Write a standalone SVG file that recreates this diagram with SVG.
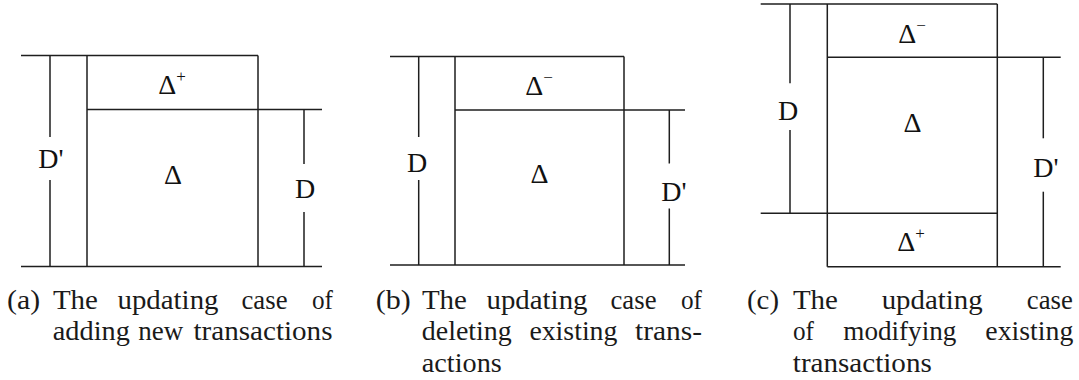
<svg xmlns="http://www.w3.org/2000/svg" width="1079" height="380" viewBox="0 0 1079 380">
<style>
.ln{stroke:#1e1e1e;stroke-width:1.5;fill:none}
.lb{font-family:Liberation Serif,DejaVu Serif,serif;font-size:28px;fill:#111;text-anchor:middle}
.sup{font-size:17px}
.cap{font-family:Liberation Serif,DejaVu Serif,serif;font-size:27px;fill:#1a1a1a;text-anchor:middle}
</style>
<rect width="1079" height="380" fill="#fff"/>

<!-- Panel (a) -->
<g id="panel-a">
  <g id="a-lines" class="ln">
    <line x1="21" y1="55.5" x2="258" y2="55.5"/>
    <line x1="87" y1="109.5" x2="322" y2="109.5"/>
    <line x1="21" y1="266.5" x2="322" y2="266.5"/>
    <line x1="87" y1="55.5" x2="87" y2="266.5"/>
    <line x1="258" y1="55.5" x2="258" y2="266.5"/>
    <line x1="50" y1="55.5" x2="50" y2="137"/>
    <line x1="50" y1="180" x2="50" y2="266.5"/>
    <line x1="304" y1="109.5" x2="304" y2="164"/>
    <line x1="304" y1="212" x2="304" y2="266.5"/>
  </g>
  <g id="a-delta-plus"><text class="lb" x="172" y="94">Δ<tspan class="sup" dy="-12">+</tspan></text></g>
  <g id="a-delta"><text class="lb" x="173" y="184">Δ</text></g>
  <g id="a-Dprime"><text class="lb" x="51" y="168">D'</text></g>
  <g id="a-D"><text class="lb" x="305" y="198">D</text></g>
  <g id="a-caption" class="cap">
    <text class="cap" x="23.6" y="308.5" textLength="33" lengthAdjust="spacingAndGlyphs">(a)</text>
    <text class="cap" x="75.4" y="308.5" textLength="45" lengthAdjust="spacingAndGlyphs">The</text>
    <text class="cap" x="168" y="308.5" textLength="101" lengthAdjust="spacingAndGlyphs">updating</text>
    <text class="cap" x="264.5" y="308.5" textLength="46" lengthAdjust="spacingAndGlyphs">case</text>
    <text class="cap" x="322.5" y="308.5" textLength="21" lengthAdjust="spacingAndGlyphs">of</text>
    <text class="cap" x="91.3" y="340" textLength="77" lengthAdjust="spacingAndGlyphs">adding</text>
    <text class="cap" x="160.7" y="340" textLength="45" lengthAdjust="spacingAndGlyphs">new</text>
    <text class="cap" x="263" y="340" textLength="139" lengthAdjust="spacingAndGlyphs">transactions</text>
  </g>
</g>

<!-- Panel (b) -->
<g id="panel-b">
  <g id="b-lines" class="ln">
    <line x1="390" y1="56.5" x2="624" y2="56.5"/>
    <line x1="455" y1="110" x2="685" y2="110"/>
    <line x1="390" y1="265" x2="685" y2="265"/>
    <line x1="455" y1="56.5" x2="455" y2="265"/>
    <line x1="624" y1="56.5" x2="624" y2="265"/>
    <line x1="418.7" y1="56.5" x2="418.7" y2="137"/>
    <line x1="418.7" y1="180" x2="418.7" y2="265"/>
    <line x1="669.3" y1="110" x2="669.3" y2="163.5"/>
    <line x1="669.3" y1="208.5" x2="669.3" y2="265"/>
  </g>
  <g id="b-delta-minus"><text class="lb" x="539" y="95">Δ<tspan class="sup" dy="-12">−</tspan></text></g>
  <g id="b-delta"><text class="lb" x="539.5" y="183">Δ</text></g>
  <g id="b-D"><text class="lb" x="417" y="171.5">D</text></g>
  <g id="b-Dprime"><text class="lb" x="674" y="200.5">D'</text></g>
  <g id="b-caption">
    <text class="cap" x="393.3" y="308.5" textLength="35" lengthAdjust="spacingAndGlyphs">(b)</text>
    <text class="cap" x="444.4" y="308.5" textLength="45" lengthAdjust="spacingAndGlyphs">The</text>
    <text class="cap" x="537" y="308.5" textLength="101" lengthAdjust="spacingAndGlyphs">updating</text>
    <text class="cap" x="633.5" y="308.5" textLength="46" lengthAdjust="spacingAndGlyphs">case</text>
    <text class="cap" x="691.5" y="308.5" textLength="21" lengthAdjust="spacingAndGlyphs">of</text>
    <text class="cap" x="466.8" y="340" textLength="90" lengthAdjust="spacingAndGlyphs">deleting</text>
    <text class="cap" x="573.4" y="340" textLength="88" lengthAdjust="spacingAndGlyphs">existing</text>
    <text class="cap" x="668.6" y="340" textLength="67" lengthAdjust="spacingAndGlyphs">trans-</text>
    <text class="cap" x="461.8" y="371.5" textLength="80" lengthAdjust="spacingAndGlyphs">actions</text>
  </g>
</g>

<!-- Panel (c) -->
<g id="panel-c">
  <g id="c-lines" class="ln">
    <line x1="760.7" y1="4" x2="997.3" y2="4"/>
    <line x1="827.3" y1="57.3" x2="1060.7" y2="57.3"/>
    <line x1="760.7" y1="213.3" x2="997.3" y2="213.3"/>
    <line x1="827.3" y1="266.7" x2="1060.7" y2="266.7"/>
    <line x1="827.3" y1="4" x2="827.3" y2="266.7"/>
    <line x1="997.3" y1="4" x2="997.3" y2="266.7"/>
    <line x1="790" y1="4" x2="790" y2="83.3"/>
    <line x1="790" y1="130" x2="790" y2="213.3"/>
    <line x1="1043.3" y1="57.3" x2="1043.3" y2="138.3"/>
    <line x1="1043.3" y1="191.7" x2="1043.3" y2="266.7"/>
  </g>
  <g id="c-delta-minus"><text class="lb" x="912" y="42.7">Δ<tspan class="sup" dy="-12">−</tspan></text></g>
  <g id="c-delta"><text class="lb" x="912.5" y="131.5">Δ</text></g>
  <g id="c-delta-plus"><text class="lb" x="911" y="250.5">Δ<tspan class="sup" dy="-12">+</tspan></text></g>
  <g id="c-D"><text class="lb" x="788" y="120">D</text></g>
  <g id="c-Dprime"><text class="lb" x="1046" y="176.5">D'</text></g>
  <g id="c-caption">
    <text class="cap" x="763" y="308.5" textLength="32" lengthAdjust="spacingAndGlyphs">(c)</text>
    <text class="cap" x="815.4" y="308.5" textLength="45" lengthAdjust="spacingAndGlyphs">The</text>
    <text class="cap" x="932.2" y="308.5" textLength="101" lengthAdjust="spacingAndGlyphs">updating</text>
    <text class="cap" x="1049.8" y="308.5" textLength="46" lengthAdjust="spacingAndGlyphs">case</text>
    <text class="cap" x="803.5" y="340" textLength="21" lengthAdjust="spacingAndGlyphs">of</text>
    <text class="cap" x="899.8" y="340" textLength="113" lengthAdjust="spacingAndGlyphs">modifying</text>
    <text class="cap" x="1029.3" y="340" textLength="88" lengthAdjust="spacingAndGlyphs">existing</text>
    <text class="cap" x="862.3" y="371.5" textLength="139" lengthAdjust="spacingAndGlyphs">transactions</text>
  </g>
</g>
</svg>
